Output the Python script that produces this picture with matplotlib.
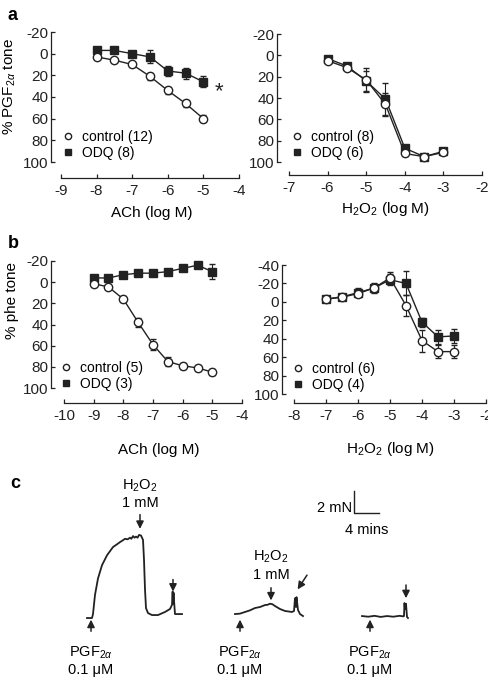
import matplotlib
matplotlib.use('Agg')
import matplotlib.pyplot as plt
from matplotlib.lines import Line2D

plt.rcParams['font.family'] = ['Liberation Sans', 'DejaVu Sans']
plt.rcParams['mathtext.fontset'] = 'custom'
plt.rcParams['mathtext.rm'] = 'Liberation Sans'
plt.rcParams['mathtext.it'] = 'Liberation Sans:italic'
plt.rcParams['font.size'] = 10

INK = '#222222'

# ---- panel a: PGF2a tone ----
a1_x = [-8, -7.5, -7, -6.5, -6, -5.5, -5]
a1_ctrl = [3, 6, 10, 21, 34, 46, 60]
a1_ctrl_err = [2, 2, 2, 3, 3, 3, 3]
a1_odq = [-3, -3, 0, 3, 16, 18, 26]
a1_odq_err = [2, 2, 2, 6, 5, 5, 5]

a2_x = [-6, -5.5, -5, -4.5, -4, -3.5, -3]
a2_ctrl = [5, 11.5, 23, 46, 92, 95, 91]
a2_ctrl_err = [2, 2, 11, 11, 2, 2, 2]
a2_odq = [3, 10, 24, 41, 87, 95, 90]
a2_odq_err = [2, 3, 9, 15, 2, 2, 2]

# ---- panel b: phe tone ----
b1_x = [-9, -8.5, -8, -7.5, -7, -6.5, -6, -5.5, -5]
b1_ctrl = [1.5, 4.5, 16, 38, 59, 75, 79, 81, 85]
b1_ctrl_err = [2, 2, 3, 4, 5, 4, 3, 3, 3]
b1_odq = [-4, -4, -7, -8.5, -8.5, -10, -13, -16, -10]
b1_odq_err = [2, 2, 2, 2, 2, 2, 2, 2, 7]

b2_x = [-7, -6.5, -6, -5.5, -5, -4.5, -4, -3.5, -3]
b2_ctrl = [-3, -5, -9, -15, -26, 4, 42, 54, 54]
b2_ctrl_err = [2, 2, 3, 4, 6, 11, 12, 7, 7]
b2_odq = [-3, -5.5, -10, -15, -24, -20, 22, 38, 37]
b2_odq_err = [2, 2, 5, 5, 6, 13, 5, 8, 8]

# ---- panel c: tension traces (time in min, tension in mN) ----
tr1_t = [0, 0.8, 0.96, 1.28, 1.76, 2.4, 3.2, 4.16, 4.8, 5.28, 5.7, 6.08, 6.5, 6.88, 7.1,
         7.36, 7.6, 7.84, 8.1, 8.32, 8.64, 8.96, 9.12, 9.28, 9.44, 9.76, 10.4, 11.36,
         12.48, 13.28, 13.6, 13.7, 13.76, 13.85, 13.92, 14.08, 14.56, 15.2]
tr1_f = [0, 0, 0.36, 2.1, 3.6, 4.8, 5.7, 6.45, 6.7, 6.9, 7.05, 7.2, 7.15, 7.3, 7.2,
         7.45, 7.3, 7.4, 7.3, 7.55, 7.5, 7.1, 5.3, 2.6, 0.9, 0.45, 0.27, 0.27,
         0.55, 0.82, 1.2, 2.4, 1.3, 2.3, 1.6, 0.36, 0.36, 0.36]
tr2_t = [0, 0.8, 1.6, 2.4, 3.2, 4.0, 4.8, 5.2, 5.6, 6.0, 6.4, 7.2, 8.0, 9.12, 9.44,
         9.6, 9.76, 9.84, 9.92, 10.08, 10.4, 10.88]
tr2_f = [0.36, 0.4, 0.55, 0.7, 0.91, 1.0, 1.18, 1.2, 1.3, 1.25, 1.09, 0.82, 0.64, 0.55, 0.64,
         1.8, 1.0, 1.9, 1.5, 0.73, 0.36, 0.18]
tr3_t = [0, 1.0, 2.0, 3.0, 4.0, 5.0, 6.0, 6.6, 6.72, 6.8, 6.88, 7.04, 7.2, 7.36]
tr3_f = [0.18, 0.12, 0.2, 0.1, 0.18, 0.12, 0.2, 0.15, 0.18, 1.36, 0.8, 1.3, 0.1, 0.0]
trace_offsets = [0, 23.68, 44.0]

fig = plt.figure(figsize=(4.88, 6.78), dpi=100)
W, H = 488.0, 678.0


def px_axes(left, top, right, bottom):
    return fig.add_axes([left / W, 1 - bottom / H, (right - left) / W, (bottom - top) / H])


def style(ax, xlim, xticks, yticks, yout, xout):
    ax.set_xlim(xlim)
    ax.set_ylim(yticks[-1], yticks[0])
    ax.set_xticks(xticks)
    ax.set_xticklabels(['%d' % v for v in xticks])
    ax.set_yticks(yticks)
    ax.set_yticklabels(['%d' % v for v in yticks])
    for s in ['top', 'right']:
        ax.spines[s].set_visible(False)
    ax.spines['left'].set_position(('outward', yout * 0.72))
    ax.spines['bottom'].set_position(('outward', xout * 0.72))
    ax.spines['left'].set_bounds(yticks[-1], yticks[0])
    ax.spines['bottom'].set_bounds(xticks[0], xticks[-1])
    for s in ['left', 'bottom']:
        ax.spines[s].set_linewidth(0.9)
        ax.spines[s].set_color(INK)
    ax.tick_params(direction='in', length=3, width=0.9, colors=INK, labelsize=11)
    ax.tick_params(axis='y', pad=2)
    ax.tick_params(axis='x', pad=4)
    ax.patch.set_visible(False)


def curves(ax, x, c, ce, o, oe):
    ax.errorbar(x, o, yerr=oe, fmt='-s', color=INK, mfc=INK, mec=INK, ms=6,
                capsize=2.5, elinewidth=0.8, lw=1, clip_on=False, zorder=3)
    ax.errorbar(x, c, yerr=ce, fmt='-o', color=INK, mfc='white', mec=INK, ms=6,
                mew=1, capsize=2.5, elinewidth=0.8, lw=1, clip_on=False, zorder=4)


def legend(ax, nc, no, anchor):
    h = [Line2D([], [], ls='none', marker='o', mfc='white', mec=INK, ms=4.5),
         Line2D([], [], ls='none', marker='s', mfc=INK, mec=INK, ms=4.5)]
    ax.legend(h, ['control (%d)' % nc, 'ODQ (%d)' % no], loc='lower left',
              bbox_to_anchor=anchor, frameon=False, handlelength=0.8,
              handletextpad=0.6, labelspacing=0.2, borderaxespad=0, fontsize=10)


def labels(ax, xl, xpos, yl=None, ypos=None):
    ax.set_xlabel(xl, fontsize=11, va='center')
    ax.xaxis.set_label_coords(*xpos)
    if yl:
        ax.set_ylabel(yl, fontsize=11, va='center')
        ax.yaxis.set_label_coords(*ypos)


# a left
ax = px_axes(61, 32, 239, 162)
curves(ax, a1_x, a1_ctrl, a1_ctrl_err, a1_odq, a1_odq_err)
style(ax, (-9, -4), [-9, -8, -7, -6, -5, -4], [-20, 0, 20, 40, 60, 80, 100], 10, 16)
legend(ax, 12, 8, (-0.022, -0.03))
ax.text(-4.56, 35, '*', fontsize=16, ha='center', va='center', color=INK)
labels(ax, 'ACh (log M)', (0.51, -0.39), '% PGF$_{2\\alpha}$ tone', (-0.287, 0.58))
fig.text(8 / W, 1 - 15 / H, 'a', fontsize=13, fontweight='bold', va='center')

# a right
ax = px_axes(289, 34, 482, 162)
curves(ax, a2_x, a2_ctrl, a2_ctrl_err, a2_odq, a2_odq_err)
style(ax, (-7, -2), [-7, -6, -5, -4, -3, -2], [-20, 0, 20, 40, 60, 80, 100], 12, 13)
legend(ax, 8, 6, (-0.016, -0.03))
labels(ax, 'H$_2$O$_2$ (log M)', (0.5, -0.37))

# b left
ax = px_axes(64, 261, 242, 388)
curves(ax, b1_x, b1_ctrl, b1_ctrl_err, b1_odq, b1_odq_err)
style(ax, (-10, -4), [-10, -9, -8, -7, -6, -5, -4], [-20, 0, 20, 40, 60, 80, 100], 13, 15)
legend(ax, 5, 3, (-0.05, -0.07))
labels(ax, 'ACh (log M)', (0.53, -0.49), '% phe tone', (-0.29, 0.69))
fig.text(8 / W, 1 - 243 / H, 'b', fontsize=13, fontweight='bold', va='center')

# b right
ax = px_axes(294, 265, 486, 394)
curves(ax, b2_x, b2_ctrl, b2_ctrl_err, b2_odq, b2_odq_err)
style(ax, (-8, -2), [-8, -7, -6, -5, -4, -3, -2], [-40, -20, 0, 20, 40, 60, 80, 100], 12, 9)
legend(ax, 6, 4, (-0.036, -0.03))
labels(ax, 'H$_2$O$_2$ (log M)', (0.5, -0.43))

# c traces
ax = px_axes(0, 460, 488, 678)
ax.set_xlim(-13.92, 64.16)
ax.set_ylim(-5.45, 14.36)
ax.axis('off')
for tt, ff, off in zip([tr1_t, tr2_t, tr3_t], [tr1_f, tr2_f, tr3_f], trace_offsets):
    ax.plot([t + off for t in tt], ff, color=INK, lw=1.3)

arr = dict(arrowstyle='-|>', color=INK, lw=1.1, mutation_scale=11, shrinkA=0, shrinkB=0)


def arrow(x0, y0, x1, y1):
    ax.annotate('', xy=(x1, y1), xytext=(x0, y0), arrowprops=arr)


pgf = 'PGF$_{2\\alpha}$\n0.1 μM'
for x in [0.64, 24.48, 45.28]:
    arrow(x, -1.2, x, -0.15)
    ax.text(x, -3.9, pgf, ha='center', va='center', fontsize=10.5, linespacing=1.2)

h2o2 = 'H$_2$O$_2$\n1 mM'
arrow(8.48, 9.4, 8.48, 8.1)
ax.text(8.48, 11.3, h2o2, ha='center', va='center', fontsize=10.5, linespacing=1.2)
arrow(13.76, 3.5, 13.76, 2.4)
arrow(29.44, 2.75, 29.44, 1.6)
ax.text(29.44, 4.8, h2o2, ha='center', va='center', fontsize=10.5, linespacing=1.2)
arrow(35.2, 3.9, 33.7, 2.6)
arrow(51.04, 3.0, 51.04, 1.8)

# scale bar: 2 mN x 4 mins
ax.plot([42.72, 42.72, 46.72], [11.55, 9.55, 9.55], color=INK, lw=1)
ax.text(42.4, 10.0, '2 mN', ha='right', va='center', fontsize=10.5)
ax.text(44.8, 8.0, '4 mins', ha='center', va='center', fontsize=10.5)
fig.text(10 / W, 1 - 483 / H, 'c', fontsize=13, fontweight='bold', va='center')

fig.savefig('out.png', dpi=100)
